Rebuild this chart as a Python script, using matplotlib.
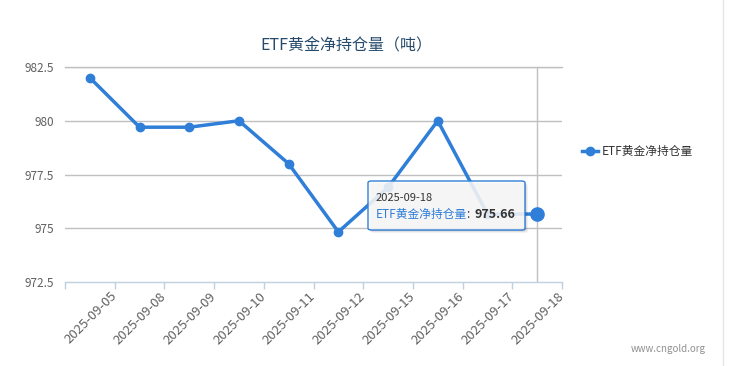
import matplotlib.pyplot as plt
import matplotlib.transforms as mtransforms
from matplotlib.patches import FancyBboxPatch
from matplotlib.lines import Line2D

plt.rcParams['font.family'] = ['Noto Sans CJK SC', 'DejaVu Sans']

# data
dates = ['2025-09-05', '2025-09-08', '2025-09-09', '2025-09-10', '2025-09-11',
         '2025-09-12', '2025-09-15', '2025-09-16', '2025-09-17', '2025-09-18']
holdings = [982.0, 979.7, 979.7, 980.0, 978.0, 974.83, 976.9, 980.0, 975.66, 975.66]
y_ticks = [972.5, 975, 977.5, 980, 982.5]
y_labels = ['972.5', '975', '977.5', '980', '982.5']
series_name = 'ETF黄金净持仓量'
title = 'ETF黄金净持仓量（吨）'

W, H = 729, 366
fig = plt.figure(figsize=(W / 100, H / 100), dpi=100)
fig.patch.set_facecolor('white')

# plot area in pixels
left, right, top, bottom = 65, 562, 67, 282
ax = fig.add_axes([left / W, 1 - bottom / H, (right - left) / W, (bottom - top) / H])

blue = '#2f7ed8'
x = list(range(len(dates)))

ax.set_xlim(-0.5, len(dates) - 0.5)
ax.set_ylim(972.5, 982.5)

# grid
for yt in y_ticks[1:]:
    ax.axhline(yt, color='#c0c0c0', lw=1, zorder=1)
ax.axhline(982.5, color='#c0c0c0', lw=1, zorder=1, clip_on=False)

for s in ['top', 'right', 'left']:
    ax.spines[s].set_visible(False)
ax.spines['bottom'].set_color('#c0d0e0')
ax.spines['bottom'].set_linewidth(1)

ax.set_yticks(y_ticks)
ax.set_yticklabels(y_labels, fontsize=8.5, color='#606060')
ax.tick_params(axis='y', length=0, pad=8)

ax.set_xticks(x)
ax.set_xticklabels(dates, rotation=45, ha='right', rotation_mode='anchor',
                   fontsize=9.5, color='#606060')
ax.set_xticks([i - 0.5 for i in range(len(dates) + 1)], minor=True)
ax.tick_params(axis='x', which='major', length=0, pad=4)
ax.tick_params(axis='x', which='minor', length=5, color='#c0d0e0', width=1)
offset = mtransforms.ScaledTranslation(20 / 100, -2 / 100, fig.dpi_scale_trans)
for lbl in ax.get_xticklabels():
    lbl.set_transform(lbl.get_transform() + offset)

# crosshair
ax.axvline(x[-1], color='#c0c0c0', lw=1, zorder=2)

# series
ax.plot(x, holdings, color=blue, lw=2.5, marker='o', ms=6, zorder=3,
        solid_joinstyle='round')
ax.plot(x[-1], holdings[-1], 'o', color=blue, ms=9.5, zorder=4)

# tooltip with a soft shadow
tx0, ty0, tx1, ty1 = 368, 181, 525, 230
for k, a in [(3, 0.05), (2, 0.08), (1, 0.12)]:
    sh = FancyBboxPatch(((tx0 + k) / W, 1 - (ty1 + k) / H), (tx1 - tx0) / W, (ty1 - ty0) / H,
                        boxstyle='round,pad=0,rounding_size=0.005',
                        transform=fig.transFigure, facecolor=(0, 0, 0, a),
                        edgecolor='none', zorder=9)
    fig.patches.append(sh)
tip = FancyBboxPatch((tx0 / W, 1 - ty1 / H), (tx1 - tx0) / W, (ty1 - ty0) / H,
                     boxstyle='round,pad=0,rounding_size=0.005',
                     transform=fig.transFigure, facecolor=(1, 1, 1, 0.85),
                     edgecolor=blue, lw=1, zorder=10)
fig.patches.append(tip)
fig.text(376 / W, 1 - 198 / H, dates[-1], fontsize=8, color='#333333',
         va='center', zorder=11)
t1 = fig.text(376 / W, 1 - 214 / H, series_name, fontsize=8.5, color=blue,
              va='center', zorder=11)
fig.canvas.draw()
bb = t1.get_window_extent()
fig.text(bb.x1 / W, 1 - 214 / H, ': ', fontsize=8.5, color='#333333',
         va='center', zorder=11)
fig.text(bb.x1 / W + 7 / W, 1 - 214 / H, f'{holdings[-1]:.2f}', fontsize=9,
         color='#333333', fontweight='bold', va='center', zorder=11)

# title
fig.text(346 / W, 1 - 46 / H, title, fontsize=11.5, color='#274b6d',
         ha='center', va='center')

# legend
fig.add_artist(Line2D([582 / W, 598 / W], [1 - 151 / H, 1 - 151 / H],
                      transform=fig.transFigure, color=blue, lw=2.5))
fig.add_artist(Line2D([590 / W], [1 - 151 / H], transform=fig.transFigure,
                      marker='o', color=blue, ms=6))
fig.text(602 / W, 1 - 151 / H, series_name, fontsize=8.5, color='#333333',
         va='center')

# watermark and container border
fig.text(706 / W, 1 - 349 / H, 'www.cngold.org', fontsize=7, color='#909090',
         ha='right', va='center')
fig.add_artist(Line2D([723 / W, 723 / W], [0, 1], transform=fig.transFigure,
                      color='#e6e6e6', lw=1))

fig.savefig('out.png', dpi=100)
